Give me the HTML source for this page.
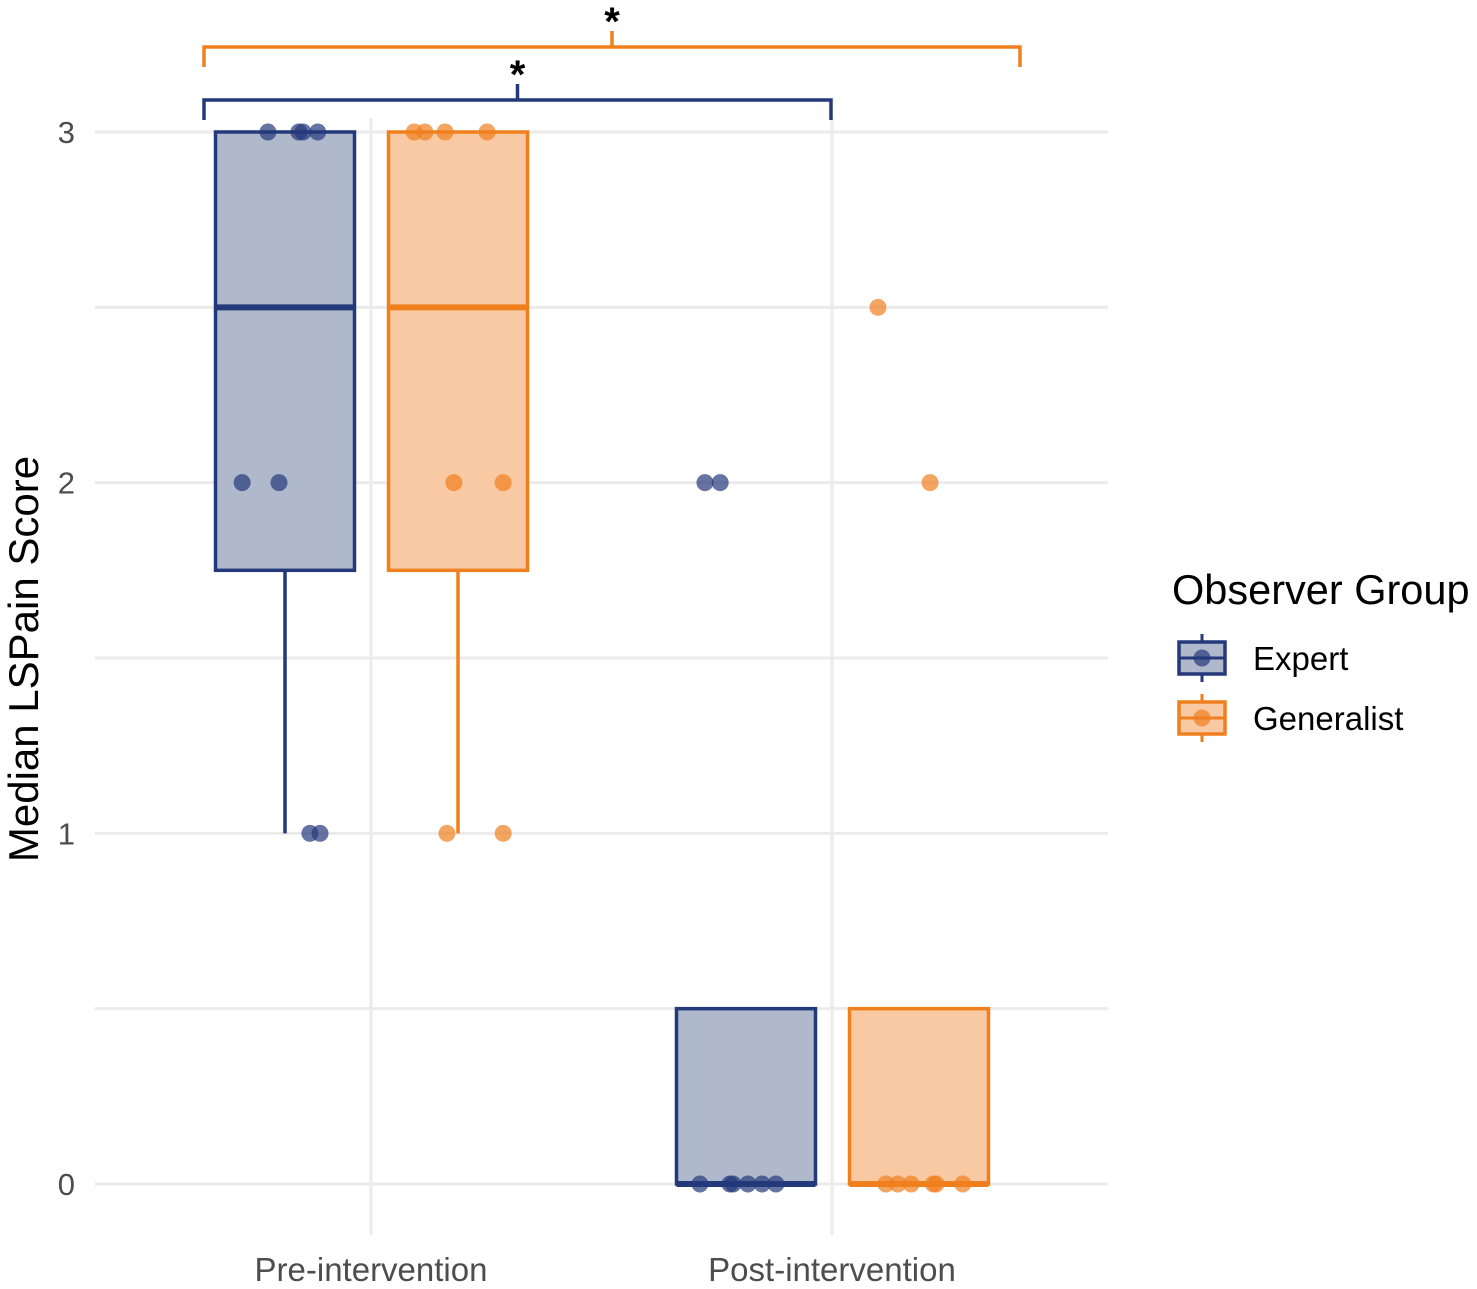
<!DOCTYPE html>
<html><head><meta charset="utf-8"><style>
body{margin:0;background:#fff;}
svg{display:block;font-family:"Liberation Sans",sans-serif;}
</style></head><body>
<svg id="chart" width="1477" height="1289" viewBox="0 0 1477 1289"></svg>
<script>
const categories=["Pre-intervention","Post-intervention"];
const groups=["Expert","Generalist"];
// box stats per [category][group]: [whiskerLow,q1,median,q3,whiskerHigh]
const expertStats=[[1,1.75,2.5,3,3],[0,0,0,0.5,0.5]];
const generalistStats=[[1,1.75,2.5,3,3],[0,0,0,0.5,0.5]];
// points: values and jitter (in category units, relative to group center)
const expertPreVals=[3,3,3,3,2,2,1,1];
const expertPreJit=[-0.037,0.03,0.039,0.071,-0.093,-0.013,0.054,0.076];
const expertPostVals=[2,2,0,0,0,0,0,0];
const expertPostJit=[-0.089,-0.056,-0.1,-0.035,-0.028,0.004,0.035,0.065];
const genPreVals=[3,3,3,3,2,2,1,1];
const genPreJit=[-0.095,-0.072,-0.028,0.063,-0.009,0.098,-0.024,0.098];
const genPostVals=[2.5,2,0,0,0,0,0,0];
const genPostJit=[-0.089,0.024,-0.072,-0.046,-0.017,0.031,0.037,0.095];
const yTicks=[0,1,2,3];
const yMinor=[0.5,1.5,2.5];

const NS="http://www.w3.org/2000/svg";
const svg=document.getElementById('chart');
function el(t,a,p){const e=document.createElementNS(NS,t);for(const k in a)e.setAttribute(k,a[k]);(p||svg).appendChild(e);return e;}
const y=v=>1184-v*350.67;
const xc=i=>371+i*461;
const groupOff=[-86,87];
const pxPerUnit=461;
const navy="#23397a",orange="#f07f1e",navyFill="#b0b8cc",orangeFill="#f8c9a3";

yMinor.concat(yTicks).forEach(v=>{const g=el('line',{x1:95,x2:1108,y1:y(v),y2:y(v),stroke:'#ebebeb','stroke-width':3});

});
categories.forEach((c,i)=>{const g=el('line',{x1:xc(i),x2:xc(i),y1:118,y2:1235,stroke:'#ebebeb','stroke-width':3});

});

[[expertStats,navy,navyFill,'expert'],[generalistStats,orange,orangeFill,'generalist']].forEach(([st,col,fill,nm],gi)=>{
 st.forEach((s,ci)=>{
  const cx=xc(ci)+groupOff[gi],hw=69.5;
  const w=el('line',{x1:cx,x2:cx,y1:y(s[0]),y2:y(s[1]),stroke:col,'stroke-width':3.5});
  
  
  const w2=el('line',{x1:cx,x2:cx,y1:y(s[4]),y2:y(s[3]),stroke:col,'stroke-width':3.5});
  
  
  const b=el('rect',{x:cx-hw,y:y(s[3]),width:hw*2,height:y(s[1])-y(s[3]),fill:fill,stroke:col,'stroke-width':3.5});
  
  
  const m=el('line',{x1:cx-hw,x2:cx+hw,y1:y(s[2]),y2:y(s[2]),stroke:col,'stroke-width':6});
  
  
 });
});
[[expertPreVals,expertPreJit,0,0,navy],[expertPostVals,expertPostJit,1,0,navy],[genPreVals,genPreJit,0,1,orange],[genPostVals,genPostJit,1,1,orange]].forEach(([vals,jit,ci,gi,col])=>{
 vals.forEach((v,k)=>{const p=el('circle',{cx:xc(ci)+groupOff[gi]+jit[k]*pxPerUnit,cy:y(v),r:8.5,fill:col,'fill-opacity':0.7});
 
 });
});

yTicks.forEach(v=>{const t=el('text',{x:75,y:y(v)+11,'text-anchor':'end','font-size':31,fill:'#4d4d4d'});t.textContent=v;

});
categories.forEach((c,i)=>{const t=el('text',{x:xc(i),y:1281,'text-anchor':'middle','font-size':33,fill:'#4d4d4d'});t.textContent=c;

});
const yt=el('text',{x:0,y:0,transform:'translate(38,659) rotate(-90)','text-anchor':'middle','font-size':42,fill:'#000'});yt.textContent='Median LSPain Score';



function bracket(x1,x2,yy,col,nm){
 const g=el('g',{});
 
 
 const mid=(x1+x2)/2;
 el('path',{d:`M${x1},${yy+20}V${yy}H${x2}V${yy+20}M${mid},${yy}V${yy-16}`,fill:'none',stroke:col,'stroke-width':3.5},g);
 const s=el('text',{x:mid,y:yy-12,'text-anchor':'middle','font-size':40,'font-weight':'bold',fill:'#000'},g);s.textContent='*';
}
bracket(204,1020,47,orange,'significance-bracket-generalist');
bracket(204,831,100,navy,'significance-bracket-expert');

const lt=el('text',{x:1172,y:604,'font-size':41.5,fill:'#000'});lt.textContent='Observer Group';


[[groups[0],navy,navyFill,658],[groups[1],orange,orangeFill,718]].forEach(([n,col,fill,cy])=>{
 const g=el('g',{});
 
 
 el('line',{x1:1202,x2:1202,y1:cy-24,y2:cy+24,stroke:col,'stroke-width':3},g);
 el('rect',{x:1179,y:cy-16,width:46,height:32,fill:fill,stroke:col,'stroke-width':3.5},g);
 el('line',{x1:1179,x2:1225,y1:cy,y2:cy,stroke:col,'stroke-width':3},g);
 el('circle',{cx:1202,cy:cy,r:8.5,fill:col,'fill-opacity':0.7},g);
 const t=el('text',{x:1253,y:cy+12,'font-size':33,fill:'#000'},g);t.textContent=n;
});
</script>
</body></html>
